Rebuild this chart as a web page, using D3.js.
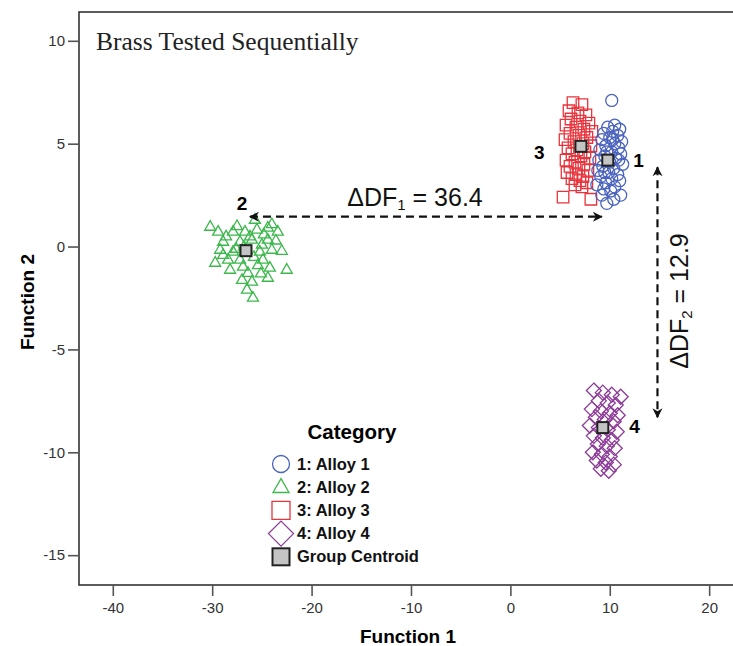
<!DOCTYPE html>
<html><head><meta charset="utf-8">
<script src="https://cdn.jsdelivr.net/npm/d3@7/dist/d3.min.js"></script>
<style>body{margin:0;background:#fff}svg{display:block}</style>
</head><body>
<svg id="c" width="733" height="646"></svg>
<script>
// ---- data (Function 1, Function 2) ----
const alloy1 = [[10.2,7.1],[10.5,5.9],[9.8,5.8],[11.0,5.7],[10.3,5.6],[9.4,5.5],[10.8,5.4],[10.0,5.3],[9.2,5.2],[11.2,5.1],
 [10.5,5.0],[9.6,4.9],[10.9,4.8],[9.0,4.7],[10.2,4.6],[11.1,4.5],[9.5,4.4],[10.6,4.3],[8.9,4.2],[10.0,4.1],
 [11.3,4.0],[9.3,3.9],[10.4,3.8],[8.8,3.7],[9.9,3.6],[10.8,3.5],[9.1,3.4],[10.2,3.3],[11.0,3.2],[9.6,3.1],
 [8.7,3.0],[10.5,2.9],[9.4,2.8],[10.1,2.7],[11.1,2.5],[9.2,2.5],[10.4,2.3],[9.7,2.1],[10.9,4.2],[9.7,4.6],[10.3,5.2],[9.5,3.6]];
const alloy2 = [[-30.2,0.97],[-29.4,0.73],[-27.9,0.73],[-26.7,0.73],[-25.7,1.31],[-25.5,0.83],[-24.4,0.93],[-23.4,0.73],
 [-28.9,0.24],[-27.2,0.24],[-26.0,0.34],[-24.4,0.34],[-29.2,-0.15],[-27.9,-0.24],[-25.2,-0.24],[-24.0,-0.15],
 [-29.7,-0.78],[-28.4,-0.63],[-27.2,-0.63],[-24.9,-0.63],[-28.2,-1.12],[-26.9,-0.97],[-24.2,-1.02],[-22.5,-1.12],
 [-26.4,-1.27],[-24.4,-1.51],[-27.0,-1.61],[-26.5,-2.09],[-25.9,-2.48],
 [-26.2,0.5],[-25.0,0.1],[-27.6,-0.1],[-25.8,-0.5],[-26.8,0.0],[-24.8,0.6],[-28.6,0.5],[-25.4,-0.9],[-23.6,0.3],
 [-26.0,-1.7],[-27.5,1.0],[-24.0,1.1],[-25.1,-1.3],[-28.9,-0.4],[-23.0,-0.2]];
const alloy3 = [[6.3,7.0],[7.2,6.9],[5.9,6.6],[6.8,6.5],[7.6,6.4],[6.1,6.2],[7.0,6.1],[7.9,6.0],[5.6,5.9],[6.6,5.8],
 [7.4,5.7],[8.2,5.6],[6.0,5.5],[6.9,5.4],[7.7,5.3],[5.5,5.2],[6.4,5.1],[7.3,5.0],[8.1,4.9],[5.8,4.8],
 [6.7,4.7],[7.5,4.6],[6.2,4.5],[7.1,4.4],[8.0,4.3],[5.6,4.2],[6.5,4.1],[7.4,4.0],[6.0,3.9],[6.9,3.8],
 [7.8,3.7],[5.7,3.6],[6.6,3.5],[7.3,3.4],[6.2,3.3],[7.0,3.2],[7.7,3.1],[6.5,3.0],[7.2,2.9],[5.3,2.4],[8.1,2.3]];
const alloy4 = [[8.4,-7.0],[9.3,-7.1],[10.2,-7.2],[11.1,-7.3],[8.9,-7.5],[9.8,-7.6],[10.6,-7.7],[8.2,-7.9],[9.1,-8.0],
 [10.0,-8.1],[10.8,-8.2],[8.6,-8.3],[9.5,-8.4],[10.4,-8.5],[8.0,-8.7],[8.9,-8.8],[9.8,-8.9],[10.7,-9.0],[8.4,-9.2],
 [9.3,-9.3],[10.2,-9.4],[8.8,-9.6],[9.7,-9.7],[10.5,-9.8],[8.3,-10.0],[9.2,-10.1],[10.0,-10.2],[8.7,-10.4],[9.6,-10.5],
 [10.4,-10.6],[9.1,-10.8],[9.9,-10.9]];
const centroids = [[9.8,4.2],[-26.6,-0.2],[7.1,4.87],[9.3,-8.8]];
const groupLabels = ["1","2","3","4"];
const labelPos = [[12.9,4.2],[-27.0,2.1],[2.9,4.6],[12.5,-8.7]];
const xTicks = [-40,-30,-20,-10,0,10,20];
const yTicks = [-15,-10,-5,0,5,10];
const legendItems = ["1: Alloy 1","2: Alloy 2","3: Alloy 3","4: Alloy 4","Group Centroid"];
const df1 = {from:[-26.2,1.45], to:[9.2,1.45], value:"36.4"};
const df2 = {from:[14.8,3.85], to:[14.8,-8.3], value:"12.9"};

const colors = ["#4a63be","#3cb84c","#e8343c","#8c3a98"];
const sans = "Liberation Sans, Arial, sans-serif";

const svg = d3.select("#c");
svg.append("rect").attr("width",733).attr("height",646).attr("fill","#fff");
const x = d3.scaleLinear().domain([-43.4,22.6]).range([79,735]);
const y = d3.scaleLinear().domain([-16.45,11.4]).range([585,12]);

const axisCol = "#333";
svg.append("rect").attr("x",x(-43.4)).attr("y",y(11.4)).attr("width",x(23.5)-x(-43.4)).attr("height",y(-16.45)-y(11.4))
  .attr("fill","none").attr("stroke",axisCol).attr("stroke-width",1.6);

const xa = svg.append("g").attr("transform",`translate(0,${y(-16.45)})`)
  .call(d3.axisBottom(x).tickValues(xTicks).tickFormat(d=>String(d)).tickSize(11).tickSizeOuter(0).tickPadding(6));
const ya = svg.append("g").attr("transform",`translate(${x(-43.4)},0)`)
  .call(d3.axisLeft(y).tickValues(yTicks).tickFormat(d=>String(d)).tickSize(11).tickSizeOuter(0).tickPadding(3));
[xa,ya].forEach(a=>{
  a.select(".domain").remove();
  a.selectAll("line").attr("stroke","#555").attr("stroke-width",1.6);
  a.selectAll("text").attr("font-family",sans).attr("font-size",15).attr("fill","#333");
});

svg.append("text").attr("x",408).attr("y",643).attr("text-anchor","middle")
  .attr("font-family",sans).attr("font-weight","bold").attr("font-size",19).text("Function 1");
svg.append("text").attr("transform","translate(34,302) rotate(-90)").attr("text-anchor","middle")
  .attr("font-family",sans).attr("font-weight","bold").attr("font-size",19).text("Function 2");

svg.append("text").attr("x",96).attr("y",50).attr("font-family","Liberation Serif, Times New Roman, serif")
  .attr("font-size",25.5).attr("fill","#222").text("Brass Tested Sequentially");

function shape(k, s){
  if(k===1){ const h=s*0.87; return `M0,${-h*0.62}L${s/2},${h*0.38}L${-s/2},${h*0.38}Z`; }
  if(k===2) return `M${-s/2},${-s/2}h${s}v${s}h${-s}Z`;
  if(k===3) return `M0,${-s/2}L${s/2},0L0,${s/2}L${-s/2},0Z`;
  return null;
}
const groups = [alloy1,alloy2,alloy3,alloy4];
const sizes = [6,11,11.5,15];
const drawOrder = [2,1,3,0];
drawOrder.forEach(k=>{
  const g = svg.append("g");
  if(k===0){
    g.selectAll("circle").data(groups[k]).join("circle")
      .attr("cx",d=>x(d[0])).attr("cy",d=>y(d[1])).attr("r",sizes[k])
      .attr("fill","none").attr("stroke",colors[k]).attr("stroke-width",1.3);
  } else {
    g.selectAll("path").data(groups[k]).join("path")
      .attr("transform",d=>`translate(${x(d[0])},${y(d[1])})`).attr("d",shape(k,sizes[k]))
      .attr("fill","none").attr("stroke",colors[k]).attr("stroke-width",1.3);
  }
});
svg.append("g").selectAll("rect").data(centroids).join("rect")
  .attr("x",d=>x(d[0])-5.5).attr("y",d=>y(d[1])-5.5).attr("width",11).attr("height",11)
  .attr("fill","#c4c4c4").attr("stroke","#222").attr("stroke-width",2);

svg.append("g").selectAll("text").data(labelPos).join("text")
  .attr("x",d=>x(d[0])).attr("y",d=>y(d[1])+7).attr("text-anchor","middle")
  .attr("font-family",sans).attr("font-weight","bold").attr("font-size",19)
  .text((d,i)=>groupLabels[i]);

const defs = svg.append("defs");
defs.append("marker").attr("id","ah").attr("viewBox","-10 -6 12 12").attr("refX",0).attr("refY",0)
  .attr("markerWidth",12).attr("markerHeight",12).attr("markerUnits","userSpaceOnUse").attr("orient","auto-start-reverse")
  .append("path").attr("d","M-9,-5 L1,0 L-9,5 L-6,0 Z").attr("fill","#111");
[df1,df2].forEach(a=>{
  svg.append("line").attr("x1",x(a.from[0])).attr("y1",y(a.from[1])).attr("x2",x(a.to[0])).attr("y2",y(a.to[1]))
    .attr("stroke","#111").attr("stroke-width",2.2).attr("stroke-dasharray","8,5")
    .attr("marker-start","url(#ah)").attr("marker-end","url(#ah)");
});
const t1 = svg.append("text").attr("x",415).attr("y",y(df1.from[1])-11).attr("text-anchor","middle")
  .attr("font-family",sans).attr("font-size",25).attr("fill","#111");
t1.append("tspan").text("ΔDF");
t1.append("tspan").attr("font-size",15).attr("dy",4).text("1");
t1.append("tspan").attr("dy",-4).text(" = "+df1.value);
const t2 = svg.append("text").attr("transform",`translate(${x(df2.from[0])+31},301) rotate(-90)`)
  .attr("text-anchor","middle").attr("font-family",sans).attr("font-size",25).attr("fill","#111");
t2.append("tspan").text("ΔDF");
t2.append("tspan").attr("font-size",15).attr("dy",4).text("2");
t2.append("tspan").attr("dy",-4).text(" = "+df2.value);

const lg = svg.append("g");
lg.append("text").attr("x",352).attr("y",439).attr("text-anchor","middle")
  .attr("font-family",sans).attr("font-weight","bold").attr("font-size",20.5).text("Category");
const lsz = [8.5,16,18,25,17];
legendItems.forEach((t,i)=>{
  const cy = 464 + i*23.2, cx = 281;
  if(i===0) lg.append("circle").attr("cx",cx).attr("cy",cy).attr("r",lsz[0]).attr("fill","none").attr("stroke",colors[0]).attr("stroke-width",1.3);
  else if(i<4) lg.append("path").attr("transform",`translate(${cx},${cy})`).attr("d",shape(i,lsz[i])).attr("fill","none").attr("stroke",colors[i]).attr("stroke-width",1.3);
  else lg.append("rect").attr("x",cx-8.5).attr("y",cy-8.5).attr("width",17).attr("height",17).attr("fill","#c4c4c4").attr("stroke","#222").attr("stroke-width",2);
  lg.append("text").attr("x",297).attr("y",cy+5.5).attr("font-family",sans)
    .attr("font-weight","bold").attr("font-size",16.5).attr("fill","#111").text(t);
});
</script>
</body></html>
